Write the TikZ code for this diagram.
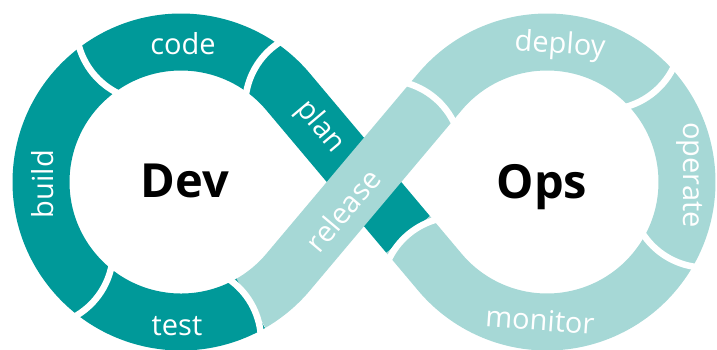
\documentclass[tikz,border=0pt]{standalone}
\usepackage{fontspec}
\setmainfont{Open Sans}
\definecolor{devc}{RGB}{0,153,153}
\definecolor{opsc}{RGB}{166,216,214}
\begin{document}
\begin{tikzpicture}[x=1pt, y=1pt]
	\tikzset{band/.style={line width=57pt},
	cut/.style={white, line width=6.5pt},
	lb/.style={text=white, inner sep=0pt, font=\fontsize{29}{30}\selectfont},
	big/.style={text=black, inner sep=0pt, font=\bfseries\fontsize{47}{50}\selectfont}};

	\useasboundingbox (0,0) rectangle (717,349);

	% the two loops of the band
	\draw[band, devc] (408.16,114.54) -- (288.09,257.17) arc[start angle=40.1, end angle=300, radius=140];
	\draw[band, opsc] (251,45.76) arc[start angle=300, end angle=319.9, radius=140] -- (439.91,257.17)
		arc[start angle=139.9, end angle=-139.9, radius=140] -- (408.16,114.54);

	% white cuts between the steps
	\draw[cut] (257.25,284.41) ++(327:75) ++(121:75) arc[start angle=121, end angle=173, radius=75];
	\draw[cut] (92.9,275.8) ++(39:75) ++(193:75) arc[start angle=193, end angle=245, radius=75];
	\draw[cut] (98.71,53.74) ++(144:75) ++(298:75) arc[start angle=298, end angle=350, radius=75];
	\draw[cut] (251,45.76) ++(210:75) ++(4:75) arc[start angle=4, end angle=56, radius=75];
	\draw[cut] (434.76,251.05) ++(229.9:75) ++(23.9:75) arc[start angle=23.9, end angle=75.9, radius=75];
	\draw[cut] (654.25,256.99) ++(130:75) ++(-76:75) arc[start angle=-76, end angle=-24, radius=75];
	\draw[cut] (665.73,92.81) ++(58:75) ++(-148:75) arc[start angle=-148, end angle=-96, radius=75];
	\draw[cut] (408.16,114.54) ++(310.1:75) ++(104.1:75) arc[start angle=104.1, end angle=156.1, radius=75];

	\node[big, anchor=base] (dev) at (185,152) {Dev};
	\node[big, anchor=base] (ops) at (542,151) {Ops};

	\node[lb] (code) at (183,305) {code};
	\node[lb, rotate=90] (build) at (43,165) {build};
	\node[lb] (test) at (177,23) {test};
	\node[lb, rotate=49.9] (release) at (343,139) {release};
	\node[lb, rotate=-4] (deploy) at (560,303) {deploy};
	\node[lb, rotate=-90] (operate) at (690,174) {operate};
	\node[lb, rotate=-4] (monitor) at (540,29) {monitor};
	\node[lb, rotate=-49.9] (plan) at (320,222) {plan};
\end{tikzpicture}
\end{document}
